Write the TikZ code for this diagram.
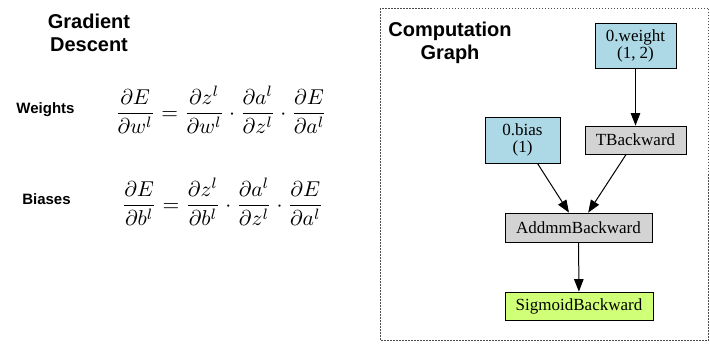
\documentclass[tikz,border=0pt]{standalone}
\usepackage{fontspec}
\usepackage{graphicx}
\setmainfont{Liberation Serif}
\setsansfont{Liberation Sans}
\usetikzlibrary{arrows.meta}
\begin{document}
\begin{tikzpicture}[x=1pt,y=-1pt,
  gbox/.style={draw=black,line width=0.8pt,inner sep=0pt,align=center,
    font=\fontsize{17}{17}\selectfont},
  paramnode/.style={gbox,fill=paramblue},
  opnode/.style={gbox,fill=opgray},
  outnode/.style={gbox,fill=outgreen},
  edge/.style={line width=1pt,-{Triangle[length=12.5pt,width=9.5pt]}},
  title/.style={font=\sffamily\bfseries\fontsize{20}{23}\selectfont,align=center},
  rowlabel/.style={font=\sffamily\bfseries\fontsize{15}{18}\selectfont},
  eq/.style={inner sep=0pt}]
\definecolor{paramblue}{RGB}{173,216,230}
\definecolor{opgray}{RGB}{211,211,211}
\definecolor{outgreen}{RGB}{208,255,120}
\useasboundingbox (0,0) rectangle (710,343);
% left part
\node[title] (gd) at (89,33) {Gradient\\Descent};
\node[rowlabel] (wl) at (45.5,110) {Weights};
\node[rowlabel] (bl) at (46.5,199) {Biases};
\node[eq] (weq) at (221,110) {\scalebox{2.15}{$\displaystyle \frac{\partial E}{\partial w^l}=\frac{\partial z^l}{\partial w^l}\cdot\frac{\partial a^l}{\partial z^l}\cdot\frac{\partial E}{\partial a^l}$}};
\node[eq] (beq) at (222.5,202) {\scalebox{2.15}{$\displaystyle \frac{\partial E}{\partial b^l}=\frac{\partial z^l}{\partial b^l}\cdot\frac{\partial a^l}{\partial z^l}\cdot\frac{\partial E}{\partial a^l}$}};
% right part
\draw[black!70,line width=0.6pt,dash pattern=on 1.5pt off 1.5pt] (380,8) rectangle (708.5,340);
\node[title] (cg) at (450,43) {Computation\\Graph};
\node[paramnode,minimum width=81pt,minimum height=45pt] (w) at (635.5,45.5) {0.weight\\(1, 2)};
\node[opnode,minimum width=101pt,minimum height=28pt] (t) at (635.5,140) {TBackward};
\node[paramnode,minimum width=75pt,minimum height=46pt] (b) at (522.5,140) {0.bias\\(1)};
\node[opnode,minimum width=147pt,minimum height=29pt] (a) at (578.5,227.5) {AddmmBackward};
\node[outnode,minimum width=148pt,minimum height=28pt] (s) at (579,306) {SigmoidBackward};
\draw[edge] (w) -- (t);
\draw[edge] (b) -- (a);
\draw[edge] (t) -- (a);
\draw[edge] (a) -- (s);
\end{tikzpicture}
\end{document}
